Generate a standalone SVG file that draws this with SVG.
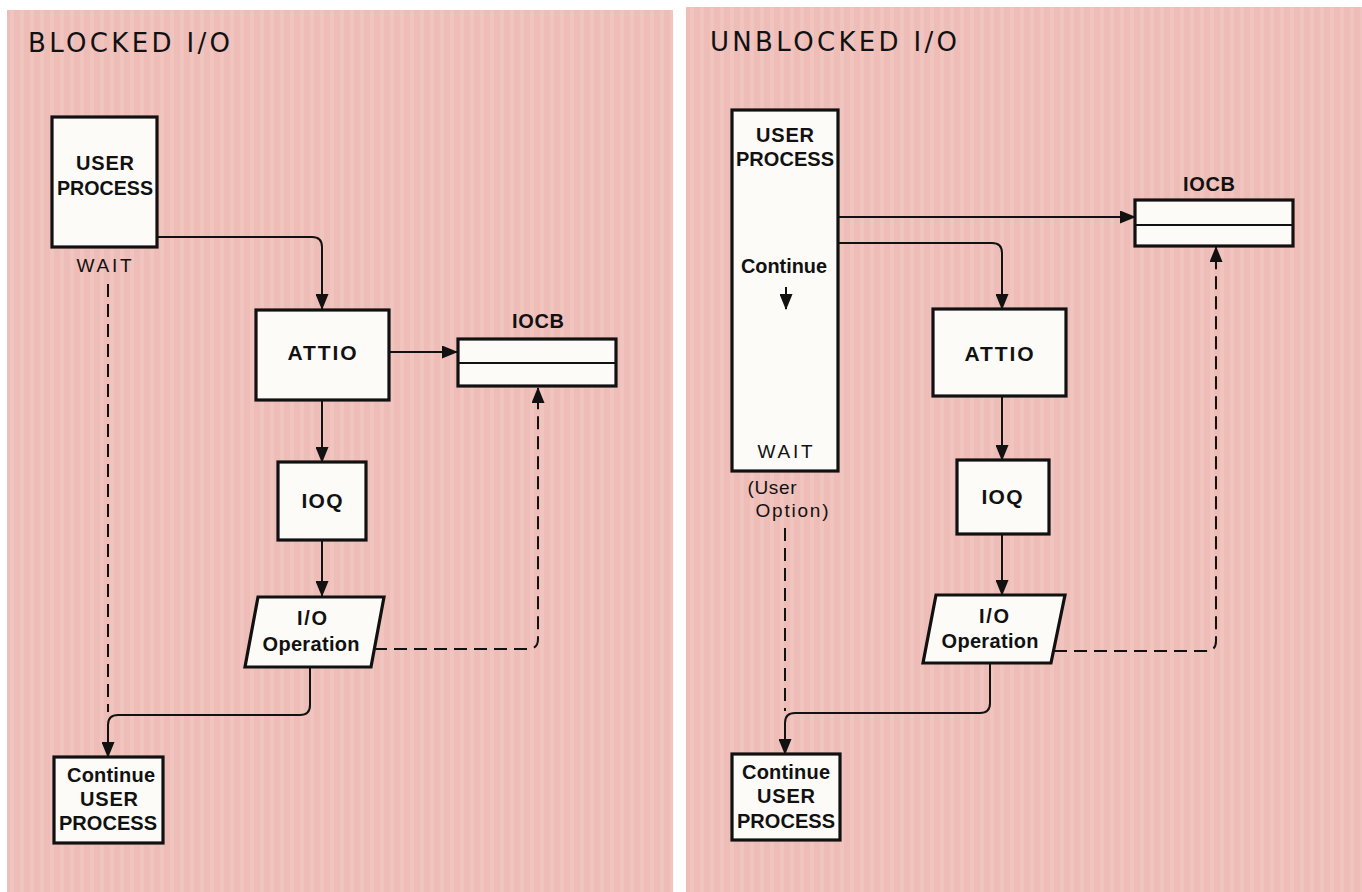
<svg xmlns="http://www.w3.org/2000/svg" width="1362" height="892" viewBox="0 0 1362 892">
<style>
.panel{fill:url(#stripes)}
.box{fill:#FDFBF8;stroke:#111;stroke-width:3.2}
.lbl{font-family:"Liberation Sans",Arial,sans-serif;font-weight:bold;font-size:20px;fill:#111;text-anchor:middle}
.big{font-size:21px}
.reg{font-family:"Liberation Sans",Arial,sans-serif;font-weight:normal;font-size:19px;fill:#111;text-anchor:middle}
.title{font-family:"DejaVu Sans","Liberation Sans",sans-serif;font-size:26px;fill:#111}
.conn{fill:none;stroke:#111;stroke-width:2}
.dash{fill:none;stroke:#111;stroke-width:2;stroke-dasharray:13 7}
</style>
<defs>
<pattern id="stripes" patternUnits="userSpaceOnUse" width="10" height="10">
<rect width="10" height="10" fill="#EFBDB7"/>
<rect x="0" width="4" height="10" fill="#F2C8C2" opacity="0.7"/>
</pattern>
<marker id="arr" markerUnits="userSpaceOnUse" markerWidth="16" markerHeight="13" refX="15" refY="6.5" orient="auto">
<path d="M0,0 L16,6.5 L0,13 Z" fill="#111"/>
</marker>
</defs>
<rect width="1362" height="892" fill="#FFFFFF"/>
<rect class="panel" x="7" y="10" width="666" height="882"/>
<rect class="panel" x="686" y="7" width="676" height="885"/>

<text class="title" x="28" y="52" textLength="202" lengthAdjust="spacing">BLOCKED I/O</text>
<text class="title" x="710" y="51" textLength="247" lengthAdjust="spacing">UNBLOCKED I/O</text>

<g id="connectors">
<path class="conn" d="M157,237 H312 Q322,237 322,247 V309" marker-end="url(#arr)"/>
<path class="conn" d="M389,352 H457" marker-end="url(#arr)"/>
<path class="conn" d="M322,400 V462" marker-end="url(#arr)"/>
<path class="conn" d="M322,540 V596" marker-end="url(#arr)"/>
<path class="conn" d="M310,667 V705 Q310,715 300,715 H118 Q108,715 108,725 V757" marker-end="url(#arr)"/>
<path class="dash" d="M108,284 V712"/>
<path class="dash" d="M374,649 H528 Q538,649 538,639 V388" marker-end="url(#arr)"/>

<path class="conn" d="M838,217 H1135" marker-end="url(#arr)"/>
<path class="conn" d="M838,243 H992 Q1002,243 1002,253 V309" marker-end="url(#arr)"/>
<path class="conn" d="M1002,396 V460" marker-end="url(#arr)"/>
<path class="conn" d="M1002,534 V595" marker-end="url(#arr)"/>
<path class="conn" d="M990,663 V703 Q990,713 980,713 H795 Q785,713 785,723 V754" marker-end="url(#arr)"/>
<path class="dash" d="M785,528 V711"/>
<path class="dash" d="M1054,651 H1206 Q1216,651 1216,641 V247" marker-end="url(#arr)"/>
</g>

<g id="left-user-process">
<rect class="box" x="52" y="117" width="105" height="130"/>
<text class="lbl" x="105" y="170" textLength="58" lengthAdjust="spacing">USER</text>
<text class="lbl" x="105" y="195" textLength="96" lengthAdjust="spacingAndGlyphs">PROCESS</text>
<text class="reg" x="104" y="272" textLength="55" lengthAdjust="spacing">WAIT</text>
</g>
<g id="left-attio">
<rect class="box" x="256" y="310" width="133" height="90"/>
<text class="lbl big" x="322" y="360" textLength="69" lengthAdjust="spacing">ATTIO</text>
</g>
<g id="left-iocb">
<rect class="box" x="458" y="339" width="158" height="47"/>
<line x1="458" y1="363" x2="616" y2="363" stroke="#111" stroke-width="2"/>
<text class="lbl" x="538" y="328" textLength="52" lengthAdjust="spacing">IOCB</text>
</g>
<g id="left-ioq">
<rect class="box" x="278" y="462" width="88" height="78"/>
<text class="lbl big" x="322" y="508" textLength="41" lengthAdjust="spacing">IOQ</text>
</g>
<g id="left-io-operation">
<path class="box" d="M258,597 H384 L371,667 H245 Z"/>
<text class="lbl" x="312" y="625" textLength="30" lengthAdjust="spacing">I/O</text>
<text class="lbl" x="311" y="651" textLength="97" lengthAdjust="spacing">Operation</text>
</g>
<g id="left-continue">
<rect class="box" x="54" y="757" width="109" height="86"/>
<text class="lbl" x="111" y="782" textLength="88" lengthAdjust="spacing">Continue</text>
<text class="lbl" x="109" y="806" textLength="58" lengthAdjust="spacing">USER</text>
<text class="lbl" x="108" y="830" textLength="98" lengthAdjust="spacing">PROCESS</text>
</g>

<g id="right-user-process">
<rect class="box" x="732" y="110" width="106" height="361"/>
<text class="lbl" x="785" y="142" textLength="58" lengthAdjust="spacing">USER</text>
<text class="lbl" x="785" y="166" textLength="98" lengthAdjust="spacing">PROCESS</text>
<text class="lbl" x="784" y="273" textLength="86" lengthAdjust="spacingAndGlyphs">Continue</text>
<path class="conn" d="M786,287 V309" marker-end="url(#arr)"/>
<text class="reg" x="785" y="458" textLength="55" lengthAdjust="spacing">WAIT</text>
<text class="reg" x="772" y="494" textLength="49" lengthAdjust="spacing">(User</text>
<text class="reg" x="792" y="517" textLength="73" lengthAdjust="spacing">Option)</text>
</g>
<g id="right-iocb">
<rect class="box" x="1135" y="200" width="158" height="46"/>
<line x1="1135" y1="225" x2="1293" y2="225" stroke="#111" stroke-width="2"/>
<text class="lbl" x="1209" y="191" textLength="52" lengthAdjust="spacing">IOCB</text>
</g>
<g id="right-attio">
<rect class="box" x="933" y="309" width="133" height="87"/>
<text class="lbl big" x="999" y="361" textLength="69" lengthAdjust="spacing">ATTIO</text>
</g>
<g id="right-ioq">
<rect class="box" x="957" y="460" width="92" height="74"/>
<text class="lbl big" x="1002" y="504" textLength="41" lengthAdjust="spacing">IOQ</text>
</g>
<g id="right-io-operation">
<path class="box" d="M936,595 H1065 L1051,663 H923 Z"/>
<text class="lbl" x="994" y="623" textLength="30" lengthAdjust="spacing">I/O</text>
<text class="lbl" x="990" y="648" textLength="97" lengthAdjust="spacing">Operation</text>
</g>
<g id="right-continue">
<rect class="box" x="732" y="754" width="108" height="86"/>
<text class="lbl" x="786" y="779" textLength="88" lengthAdjust="spacing">Continue</text>
<text class="lbl" x="786" y="803" textLength="58" lengthAdjust="spacing">USER</text>
<text class="lbl" x="786" y="828" textLength="98" lengthAdjust="spacing">PROCESS</text>
</g>
</svg>
